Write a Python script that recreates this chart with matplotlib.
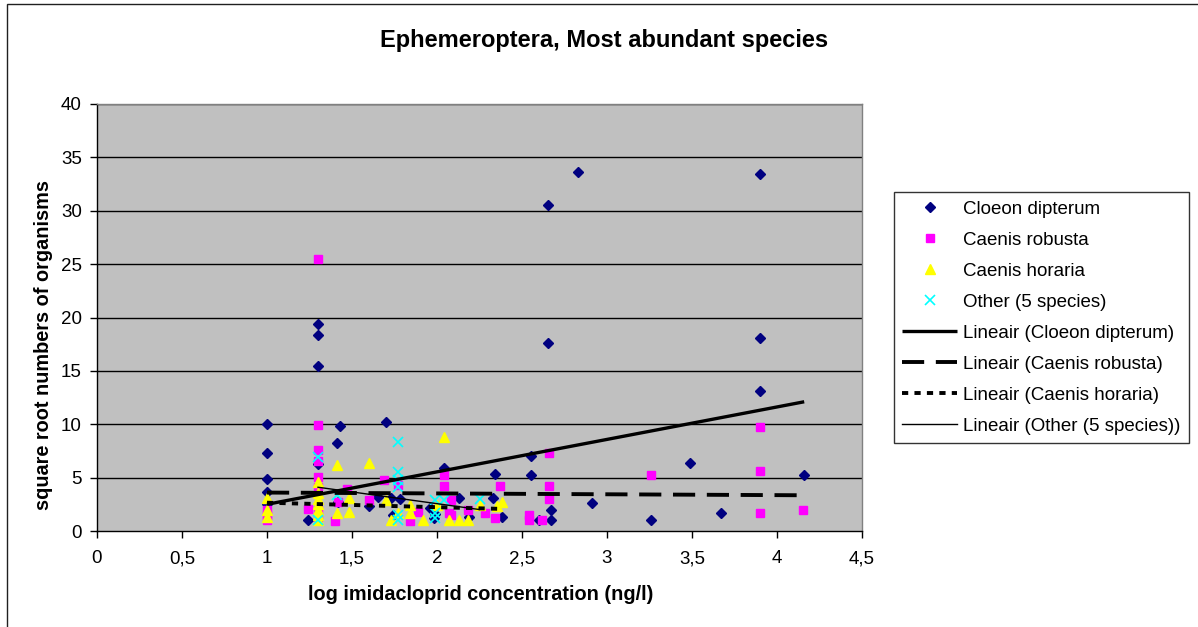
import matplotlib
matplotlib.use("Agg")
import matplotlib.pyplot as plt
from matplotlib.patches import Rectangle
import numpy as np

plt.rcParams['font.family'] = ['Liberation Sans', 'DejaVu Sans']

# ---- data ----
cloeon_x = [1.0, 1.0, 1.0, 1.0, 1.0, 1.24, 1.3, 1.3, 1.3, 1.3, 1.43, 1.41, 1.42,
            1.6, 1.65, 1.7, 1.73, 1.78, 1.74, 1.96, 1.98, 1.99, 2.04, 2.13, 2.19,
            2.34, 2.33, 2.38, 2.55, 2.55, 2.6, 2.67, 2.67, 2.65, 2.65, 2.83, 2.91,
            3.26, 3.49, 3.67, 3.9, 3.9, 3.9, 4.16]
cloeon_y = [10.0, 7.3, 4.9, 3.7, 2.5, 1.0, 19.4, 18.4, 15.5, 6.3, 9.8, 8.2, 2.7,
            2.3, 3.2, 10.2, 3.1, 3.0, 1.5, 2.2, 1.2, 1.6, 5.9, 3.1, 1.3,
            5.3, 3.1, 1.3, 7.0, 5.2, 1.0, 2.0, 1.0, 30.5, 17.6, 33.6, 2.6,
            1.0, 6.4, 1.7, 33.4, 18.1, 13.1, 5.2]

robusta_x = [1.0, 1.0, 1.0, 1.24, 1.3, 1.3, 1.3, 1.3, 1.3, 1.3, 1.3, 1.3,
             1.4, 1.42, 1.47, 1.6, 1.69, 1.77, 1.84, 1.89,
             2.04, 2.04, 2.07, 2.08, 2.08, 2.18, 2.28, 2.34, 2.37,
             2.54, 2.54, 2.62, 2.66, 2.66, 2.66, 3.26, 3.9, 3.9, 3.9, 4.15]
robusta_y = [2.0, 1.0, 1.5, 2.1, 25.5, 9.9, 7.6, 6.6, 5.1, 4.1, 2.0, 1.3,
             0.9, 2.7, 3.9, 2.9, 4.8, 4.3, 0.9, 1.8,
             5.2, 4.2, 1.7, 2.9, 1.5, 2.0, 1.7, 1.2, 4.2,
             1.5, 1.0, 1.0, 7.3, 4.2, 3.0, 5.2, 9.7, 5.6, 1.7, 2.0]

horaria_x = [1.0, 1.0, 1.0, 1.3, 1.3, 1.3, 1.3, 1.3, 1.3, 1.3,
             1.41, 1.41, 1.48, 1.48, 1.6, 1.7, 1.73, 1.77, 1.84, 1.84, 1.92,
             2.0, 2.04, 2.07, 2.13, 2.18, 2.25, 2.35, 2.38]
horaria_y = [3.1, 1.3, 2.0, 4.6, 3.6, 3.0, 2.5, 2.0, 1.5, 1.0,
             6.2, 1.7, 3.1, 1.8, 6.4, 2.9, 1.0, 1.7, 1.7, 2.4, 1.0,
             2.4, 8.8, 1.0, 1.0, 1.0, 2.4, 2.3, 2.7]

other_x = [1.3, 1.3, 1.41, 1.77, 1.77, 1.77, 1.77, 1.77, 1.77,
           1.99, 1.99, 1.99, 2.04, 2.25]
other_y = [6.9, 1.0, 3.4, 8.3, 5.5, 4.8, 4.1, 1.5, 1.0,
           2.9, 1.7, 1.2, 2.9, 3.0]

# linear trendlines: (slope, intercept), x-range
trend_cloeon = (3.04, -0.54, 1.0, 4.16)
trend_robusta = (-0.08, 3.68, 1.0, 4.16)
trend_horaria = (-0.42, 3.07, 1.0, 2.38)
trend_other = (-2.2, 6.96, 1.3, 2.25)

x_ticks = [0, 0.5, 1, 1.5, 2, 2.5, 3, 3.5, 4, 4.5]
y_ticks = [0, 5, 10, 15, 20, 25, 30, 35, 40]

labels = ["Cloeon dipterum", "Caenis robusta", "Caenis horaria", "Other (5 species)",
          "Lineair (Cloeon dipterum)", "Lineair (Caenis robusta)",
          "Lineair (Caenis horaria)", "Lineair (Other (5 species))"]

# ---- figure ----
W, H = 1198, 627
fig = plt.figure(figsize=(W / 100, H / 100), dpi=100)
fig.patch.set_facecolor('white')

# outer chart border
fig.patches.append(Rectangle((7 / W, -0.05), 1.2, 1 - 4 / H + 0.05, transform=fig.transFigure,
                             fill=False, edgecolor='#202020', linewidth=1.0, zorder=0))

left, right = 97 / W, 862 / W
bottom, top = 1 - 531 / H, 1 - 104 / H
ax = fig.add_axes([left, bottom, right - left, top - bottom])
ax.set_facecolor('#C0C0C0')
ax.set_xlim(0, 4.5)
ax.set_ylim(0, 40)

for yv in y_ticks[1:]:
    ax.axhline(yv, color='black', linewidth=1.0, zorder=1)

fs = 13.5
ax.set_xticks(x_ticks)
ax.set_xticklabels([str(v).replace('.', ',') if v != int(v) else str(int(v)) for v in x_ticks])
ax.set_yticks(y_ticks)
ax.set_yticklabels([str(v) for v in y_ticks])
ax.tick_params(axis='both', direction='out', length=5, width=1, labelsize=fs, color='black')
ax.tick_params(axis='x', pad=9)
ax.tick_params(axis='y', pad=6)
for s in ['left', 'bottom']:
    ax.spines[s].set_color('black')
    ax.spines[s].set_linewidth(1.0)
for s in ['top', 'right']:
    ax.spines[s].set_color('#808080')
    ax.spines[s].set_linewidth(1.0)

h1, = ax.plot(cloeon_x, cloeon_y, linestyle='none', marker='D', ms=5.0,
              color='#000080', mec='#000080', zorder=3, label=labels[0])
h2, = ax.plot(robusta_x, robusta_y, linestyle='none', marker='s', ms=6.3,
              color='#FF00FF', mec='#FF00FF', zorder=4, label=labels[1])
h3, = ax.plot(horaria_x, horaria_y, linestyle='none', marker='^', ms=7.5,
              color='#FFFF00', mec='#FFFF00', zorder=5, label=labels[2])
h4, = ax.plot(other_x, other_y, linestyle='none', marker='x', ms=6.5, mew=1.2,
              color='#00FFFF', zorder=6, label=labels[3])

def trend(t):
    m, b, x0, x1 = t
    xs = np.array([x0, x1])
    return xs, m * xs + b

xs, ys = trend(trend_cloeon)
h5, = ax.plot(xs, ys, color='black', linewidth=2.4, solid_capstyle='butt', zorder=7, label=labels[4])
xs, ys = trend(trend_robusta)
h6, = ax.plot(xs, ys, color='black', linewidth=2.8, dashes=(5.7, 3.0), dash_capstyle='butt', zorder=7, label=labels[5])
xs, ys = trend(trend_horaria)
h7, = ax.plot(xs, ys, color='black', linewidth=2.8, dashes=(1.6, 1.6), dash_capstyle='butt', zorder=7, label=labels[6])
xs, ys = trend(trend_other)
h8, = ax.plot(xs, ys, color='black', linewidth=1.0, zorder=7, label=labels[7])

# titles
fig.text(604 / W, 1 - 40 / H, "Ephemeroptera, Most abundant species", ha='center', va='center',
         fontsize=17, fontweight='bold')
fig.text(481 / W, 1 - 594 / H, "log imidacloprid concentration (ng/l)", ha='center', va='center',
         fontsize=14.3, fontweight='bold')
fig.text(44 / W, 1 - 345 / H, "square root numbers of organisms", ha='center', va='center',
         rotation=90, fontsize=14.3, fontweight='bold')

leg = fig.legend(handles=[h1, h2, h3, h4, h5, h6, h7, h8], loc='upper left',
                 bbox_to_anchor=(894 / W, 1 - 192 / H), bbox_transform=fig.transFigure,
                 fontsize=fs, frameon=True, fancybox=False, shadow=False,
                 handlelength=2.9, handletextpad=0.32, labelspacing=0.74,
                 borderpad=0.45, borderaxespad=0.0, numpoints=1)
leg.get_frame().set_edgecolor('black')
leg.get_frame().set_linewidth(1.0)
leg.get_frame().set_facecolor('white')

fig.savefig('out.png', dpi=100, facecolor='white')
